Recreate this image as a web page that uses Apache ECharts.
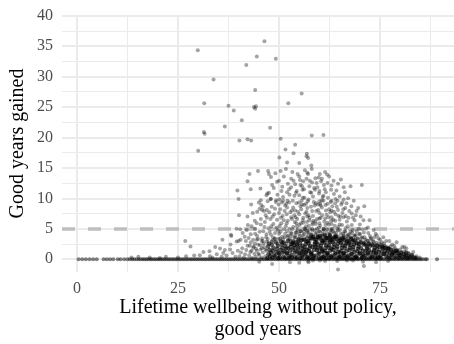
<!DOCTYPE html>
<html>
<head>
<meta charset="utf-8">
<script src="https://cdn.jsdelivr.net/npm/echarts@6/dist/echarts.min.js"></script>
<style>
  html, body { margin: 0; padding: 0; background: #fff; }
  #chart { width: 454px; height: 344px; }
</style>
</head>
<body>
<div id="chart"></div>
<script>
// tick labels
const xTicks = [0, 25, 50, 75];
const yTicks = [0, 5, 10, 15, 20, 25, 30, 35, 40];
const threshold = 5;

// sparse points high up (y > 15)
const highPoints = [
  [46.4,35.8],[29.9,34.3],[44.5,33.3],[49.2,32.9],[41.9,31.9],[33.8,29.5],[44.1,27.8],[55.6,27.2],
  [31.5,25.6],[37.5,25.2],[52.3,25.6],[38.8,24.4],[43.8,25.0],[44.3,25.1],[44.1,24.7],[40.8,22.8],
  [31.4,20.9],[31.6,20.6],[36.6,21.8],[47.8,21.6],[40.2,19.5],[42.2,19.7],[43.1,19.5],[30.0,17.8],
  [50.4,19.8],[58.1,20.3],[61.0,20.4],[51.6,18.0],[54.0,18.8],[53.6,17.4],[56.9,17.3],[56.8,16.9],
  [57.2,16.6],[50.1,16.7],[52.0,15.9],[55.0,15.8],[58.0,15.4]
];

// cloud between 3 and 15
const midPoints = [
  [47.3,14.5],[47.5,14.0],[48.0,13.5],[50.4,14.5],[42.7,14.0],[44.8,14.5],[49.5,12.7],[52.2,12.4],
  [53.0,13.2],[53.6,12.9],[54.0,12.3],[55.2,13.0],[55.3,12.2],[56.4,14.6],[57.0,14.2],[57.2,14.0],
  [60.1,14.0],[61.4,14.3],[61.9,13.9],[59.0,13.3],[59.8,13.4],[60.6,13.2],[63.0,12.1],[67.7,12.0],
  [70.5,12.2],[42.2,12.8],[58.2,12.6],[56.0,12.8],[62.0,12.5],[54.6,14.0],[51.2,13.6],
  [43.0,11.5],[45.4,11.6],[39.7,11.3],[47.1,10.8],[47.5,10.9],[40.0,9.9],[45.5,9.7],[47.9,9.9],
  [46.9,10.5],[49.2,9.4],[50.1,9.8],[51.0,10.2],[51.8,9.1],[52.6,10.6],[53.4,9.6],[54.2,10.9],
  [54.9,9.3],[55.8,11.4],[56.3,10.1],[57.1,9.5],[57.7,11.0],[58.4,10.3],[59.1,9.2],[59.9,10.8],
  [60.6,9.7],[61.3,11.5],[62.1,10.1],[62.8,9.4],[63.6,10.7],[64.2,11.3],[65.0,10.3],[65.6,9.3],
  [66.3,11.0],[67.1,10.0],[68.5,9.6],[48.7,11.7],[50.6,11.2],[53.0,11.8],[55.0,10.5],[57.5,12.0],
  [59.5,11.8],[61.0,10.4],[49.6,10.6],[52.1,9.6],[56.7,9.1],[58.9,11.4],[60.2,9.1],[63.0,9.6],
  [43.1,9.0],[40.1,7.2],[42.2,7.0],[45.2,8.3],[45.8,8.1],[46.3,7.9],[45.6,8.9],[44.0,6.3],
  [47.0,6.8],[48.2,8.6],[48.8,7.4],[49.5,6.5],[50.3,8.2],[50.9,7.1],[51.5,8.8],[52.2,6.3],
  [52.8,7.7],[53.5,8.5],[54.1,6.9],[54.7,7.8],[55.3,8.7],[55.9,6.4],[56.5,7.5],[57.0,8.4],
  [57.6,6.8],[58.2,7.9],[58.8,8.8],[59.4,6.6],[60.0,7.6],[60.6,8.5],[61.2,6.2],[61.8,7.3],
  [62.4,8.2],[63.0,6.9],[63.6,7.8],[64.3,8.6],[65.0,6.5],[65.7,7.6],[66.4,8.4],[67.2,6.8],
  [68.0,7.5],[69.2,7.9],[71.1,8.7],[70.9,6.4],[72.4,6.4],[49.9,9.0],[51.9,7.4],[53.9,6.1],
  [55.7,9.0],[56.9,6.1],[58.5,6.3],[59.7,8.1],[61.5,8.9],[62.9,6.3],[64.7,7.1],[66.8,6.2],
  [47.6,7.7],[46.5,6.1],[43.5,7.6],[53.2,6.6],[57.3,7.2],[60.3,6.8],[63.9,6.3],[66.0,6.9],[68.7,6.4],
  [38.1,4.0],[38.2,3.8],[39.5,5.0],[41.0,4.3],[42.5,3.5],[43.2,5.4],[44.1,4.2],[44.8,3.3],
  [45.5,5.7],[46.1,4.6],[46.8,3.6],[47.4,5.1],[48.0,4.0],[48.6,5.8],[49.1,3.4],[49.7,4.7],
  [50.2,5.5],[50.8,3.7],[51.3,4.9],[51.9,5.9],[52.4,3.2],[52.9,4.4],[53.5,5.3],[54.0,3.9],
  [54.5,4.8],[55.1,5.6],[55.6,3.5],[56.1,4.5],[56.7,5.4],[57.2,3.8],[57.7,4.9],[58.3,5.7],
  [58.8,3.3],[59.3,4.3],[59.9,5.2],[60.4,3.6],[60.9,4.6],[61.5,5.6],[62.0,3.1],[62.5,4.1],
  [63.1,5.0],[63.6,3.7],[64.1,4.4],[64.7,5.3],[65.3,3.4],[65.9,4.2],[66.5,5.1],[67.1,3.6],
  [67.7,4.5],[68.3,3.2],[69.0,4.0],[69.7,5.0],[70.4,3.5],[71.0,4.4],[71.8,3.1],[72.5,3.8],
  [73.9,4.2],[73.2,3.0],[74.6,3.4],[76.5,3.0],[77.3,3.0],[75.5,2.8],[79.1,2.8],[36.0,3.2],
  [40.0,3.0],[50.0,4.2],[53.0,3.0],[56.0,6.0],[58.0,4.1],[61.0,3.3],[63.0,5.8],[66.0,3.9],
  [68.0,5.6],[48.4,3.1],[55.0,4.2],[57.0,4.4],[59.6,3.9],[62.8,3.6],[52.0,4.6],[54.3,5.9],
  [60.0,5.9],[65.0,5.7],[46.0,3.0],[44.5,5.9],[42.0,4.8],[70.0,5.7],[72.0,5.2],
  [81.0,2.0],[81.5,1.8],[83.2,1.2]
];

// more of the same cloud, where it is thickest
const cloudPoints = [
  [48.3,12.2],[49.1,14.1],[50.0,12.9],[50.8,11.9],[51.7,14.8],[52.5,11.5],[53.3,14.3],[54.4,11.2],
  [55.0,13.6],[55.7,12.0],[56.2,11.5],[56.8,13.2],[57.6,12.9],[58.1,14.8],[58.7,11.7],[59.3,12.5],
  [60.0,11.2],[60.4,12.8],[61.1,12.2],[61.6,11.0],[62.4,13.6],[62.9,11.4],[63.5,12.9],[64.6,12.4],
  [65.3,13.1],[66.0,11.8],[53.8,10.4],[55.9,10.1],[58.0,10.9],[60.8,10.2],[64.0,9.9],[52.0,11.0],
  [44.6,7.8],[45.0,9.3],[46.0,8.6],[46.7,7.2],[47.2,9.5],[47.9,6.6],[48.4,7.0],[49.0,8.3],
  [49.3,9.7],[50.0,7.6],[50.5,6.8],[50.7,9.3],[51.2,6.4],[51.4,7.9],[52.0,8.5],[52.5,9.3],
  [53.0,6.9],[53.2,8.0],[53.8,7.2],[54.3,9.2],[54.5,6.6],[55.0,7.4],[55.5,8.2],[55.6,9.6],
  [56.0,6.8],[56.2,8.9],[56.8,7.8],[57.3,9.8],[57.5,6.4],[57.9,8.6],[58.4,7.1],[58.6,9.4],
  [59.0,6.2],[59.2,7.9],[59.6,9.0],[60.0,6.7],[60.3,8.8],[60.7,7.2],[61.0,9.6],[61.4,6.7],
  [61.6,8.0],[62.0,9.1],[62.2,6.9],[62.7,7.7],[63.2,8.7],[63.4,6.5],[63.9,9.2],[64.0,7.4],
  [64.6,8.1],[65.2,7.0],[65.4,9.0],[65.9,8.2],[66.5,7.1],[66.7,9.2],[67.4,7.9],[67.9,8.7],
  [68.3,6.8],[69.0,7.2],[69.6,8.4],[70.2,7.0],[48.0,9.9],[51.0,9.6],[54.0,8.0],[57.0,7.0],
  [60.0,9.5],[63.0,8.0],[66.0,9.8],[45.5,6.6],[47.0,8.1],[58.3,6.0],[62.0,6.0],[64.5,9.6],
  [40.4,4.9],[41.5,3.7],[42.3,5.6],[43.0,4.1],[43.6,3.2],[44.0,5.0],[44.6,3.8],[45.2,4.5],
  [45.8,3.4],[46.4,5.3],[46.9,4.1],[47.2,3.3],[47.7,4.5],[48.1,5.4],[48.5,3.6],[49.0,4.3],
  [49.4,5.2],[49.9,3.3],[50.4,4.5],[50.6,5.9],[51.0,3.2],[51.5,4.2],[51.7,5.4],[52.1,3.7],
  [52.6,5.0],[53.0,3.8],[53.3,4.9],[53.8,3.5],[54.1,4.4],[54.4,5.4],[54.8,3.4],[55.3,4.6],
  [55.4,5.9],[55.9,3.9],[56.3,5.1],[56.5,3.3],[56.9,4.7],[57.4,5.5],[57.5,3.4],[57.9,4.0],
  [58.2,5.0],[58.5,3.7],[58.9,4.8],[59.1,5.8],[59.5,3.5],[59.9,4.6],[60.2,5.5],[60.6,3.9],
  [61.0,5.0],[61.2,4.0],[61.7,3.5],[61.9,4.9],[62.3,5.7],[62.7,4.4],[63.0,3.4],[63.3,4.6],
  [63.8,5.5],[64.0,3.9],[64.4,5.0],[64.9,3.6],[65.1,4.8],[65.6,5.6],[65.8,3.3],[66.2,4.6],
  [66.8,3.8],[67.0,5.4],[67.4,4.1],[67.9,3.5],[68.2,4.8],[68.6,3.8],[69.2,4.6],[69.5,3.4],
  [70.0,4.2],[70.6,4.9],[71.2,3.6],[71.5,5.0],[72.1,4.3],[72.8,3.5],[73.4,4.8],[73.6,3.6],
  [74.2,3.9],[75.0,3.2],[75.8,3.6],[76.0,2.6],[78.0,2.4],[78.5,2.2],[80.0,1.6],[80.5,2.0],
  [82.0,1.0],[44.0,2.6],[42.8,2.2]
];

// soft upper edge of the dense band
const fringePoints = [
  [48.2,2.9],[48.9,3.3],[49.6,2.6],[50.3,3.4],[50.9,2.8],[51.4,3.6],[51.8,2.5],[52.3,3.9],
  [52.7,3.3],[53.1,4.2],[53.6,2.7],[54.0,3.6],[54.3,4.4],[54.7,2.9],[55.1,3.8],[55.4,4.6],
  [55.8,3.2],[56.2,4.1],[56.5,4.9],[56.9,3.6],[57.3,4.4],[57.6,2.9],[58.0,3.9],[58.3,4.7],
  [58.7,3.3],[59.0,4.2],[59.4,5.0],[59.7,3.7],[60.1,4.5],[60.4,3.1],[60.8,4.1],[61.1,4.9],
  [61.5,3.6],[61.8,4.4],[62.2,3.0],[62.5,4.0],[62.9,4.8],[63.2,3.5],[63.6,4.3],[63.9,3.0],
  [64.3,3.9],[64.6,4.7],[65.0,3.4],[65.3,4.2],[65.7,2.9],[66.0,3.7],[66.4,4.5],[66.7,3.3],
  [67.1,4.0],[67.4,2.8],[67.8,3.6],[68.1,4.3],[68.5,3.1],[68.8,3.8],[69.2,2.6],[69.5,3.4],
  [69.9,4.1],[70.2,3.0],[70.6,3.6],[70.9,2.7],[71.3,3.2],[71.6,2.3],[72.0,3.0],[72.3,2.7],
  [72.7,3.3],[73.0,2.5],[73.4,2.9],[73.7,2.4],[74.1,2.7],[74.5,2.2],[74.8,2.6],[75.3,2.4],
  [75.7,2.0],[76.1,2.2],[76.6,2.0],[77.0,1.9],[77.6,2.1],[78.2,1.6],[78.7,1.8],[79.3,1.5],
  [80.2,1.2],[81.0,1.3],[82.2,0.9],[83.0,0.7],[84.0,0.5],[84.8,0.3],
  [43.2,1.4],[43.8,2.1],[44.3,1.7],[44.9,0.9],[45.3,2.3],[45.8,1.8],[46.2,2.6],[46.7,1.6],[47.0,2.9]
];

// scattered points just above zero on the left side
const lowPoints = [
  [13.5,0.3],[15.2,0.4],[18.0,0.3],[20.5,0.2],[22.0,0.4],[25.0,0.3],[27.0,0.5],[29.0,0.6],
  [26.8,3.0],[28.1,2.1],[30.4,0.65],[31.3,1.2],[32.8,1.3],[32.9,0.5],[34.2,2.0],[34.6,0.8],
  [35.4,1.75],[36.6,1.5],[37.0,0.6],[37.9,1.6],[38.5,1.0],[39.2,0.4],[39.8,1.4],[33.5,0.3],
  [35.8,0.4],[36.2,1.0],[38.0,2.4],[39.5,2.9],[40.5,3.2],[41.8,3.0],[43.0,2.8],[44.5,3.2],[45.7,3.0],
  [40.2,0.5],[40.6,1.1],[40.9,1.8],[41.3,0.3],[41.6,0.8],[41.9,1.5],[42.2,2.2],[42.6,0.6],
  [42.9,1.2],[43.3,0.2],[43.6,1.9],[43.9,0.9],[44.2,0.4],[44.5,1.4],[44.8,2.4],[45.1,0.7],
  [45.4,1.6],[45.7,0.3],[46.0,1.1],[46.3,2.0],[46.6,0.5],[46.9,1.4]
];

// dense band close to zero
const corePoints = [
  [47.1,0.2],[47.4,0.8],[47.7,1.5],[47.3,2.1],[47.8,0.5],[47.5,2.6],
  [48.0,1.1],[48.3,0.3],[48.6,1.9],[48.2,2.4],[48.8,0.7],[48.5,1.4],
  [49.1,0.5],[49.4,1.2],[49.7,2.2],[49.2,2.8],[49.8,0.2],[49.5,1.7],[49.9,1.0],
  [50.1,0.8],[50.4,1.5],[50.7,2.4],[50.2,0.3],[50.9,1.1],[50.5,2.9],[50.8,1.9],
  [51.1,0.4],[51.3,1.3],[51.6,2.1],[51.9,0.9],[51.2,2.7],[51.7,1.7],[51.5,0.2],
  [52.0,1.0],[52.3,1.8],[52.6,0.5],[52.9,2.5],[52.2,3.0],[52.7,1.3],[52.4,0.2],[52.8,2.0],
  [53.1,0.7],[53.4,1.6],[53.7,2.3],[53.2,0.3],[53.9,1.1],[53.5,2.9],[53.8,1.9],[53.3,2.6],
  [54.0,0.4],[54.3,1.3],[54.6,2.1],[54.9,0.8],[54.2,2.8],[54.7,1.6],[54.4,0.2],[54.8,3.2],[54.5,2.4],
  [55.1,1.0],[55.4,1.9],[55.7,0.5],[55.2,2.6],[55.9,1.4],[55.5,3.1],[55.3,0.2],[55.8,2.2],[55.6,1.2],
  [56.0,0.7],[56.3,1.6],[56.6,2.5],[56.9,0.3],[56.2,3.2],[56.7,1.1],[56.4,2.0],[56.8,2.9],[56.5,0.9],
  [57.1,0.4],[57.4,1.3],[57.7,2.2],[57.2,3.0],[57.9,0.8],[57.5,1.8],[57.3,2.6],[57.8,3.5],[57.6,0.2],[57.0,1.5],
  [58.0,1.1],[58.3,2.0],[58.6,0.5],[58.9,2.8],[58.2,3.4],[58.7,1.5],[58.4,0.2],[58.8,2.4],[58.5,3.7],[58.1,0.8],
  [59.1,0.6],[59.4,1.5],[59.7,2.4],[59.2,3.2],[59.9,0.3],[59.5,1.9],[59.3,2.8],[59.8,1.1],[59.6,3.6],[59.0,2.1],
  [60.0,0.9],[60.3,1.8],[60.6,2.7],[60.9,0.4],[60.2,3.4],[60.7,1.3],[60.4,2.2],[60.8,3.0],[60.5,0.2],[60.1,3.8],[60.6,1.6],
  [61.1,0.5],[61.4,1.4],[61.7,2.3],[61.2,3.1],[61.9,0.9],[61.5,1.9],[61.3,2.7],[61.8,3.5],[61.6,0.2],[61.0,1.2],[61.4,3.9],
  [62.0,1.0],[62.3,1.9],[62.6,2.8],[62.9,0.4],[62.2,3.5],[62.7,1.4],[62.4,2.3],[62.8,3.1],[62.5,0.2],[62.1,0.7],[62.6,3.8],
  [63.1,0.6],[63.4,1.5],[63.7,2.4],[63.2,3.2],[63.9,1.0],[63.5,2.0],[63.3,2.8],[63.8,3.6],[63.6,0.3],[63.0,1.7],
  [64.0,0.8],[64.3,1.7],[64.6,2.6],[64.9,0.4],[64.2,3.3],[64.7,1.2],[64.4,2.1],[64.8,3.0],[64.5,0.2],[64.1,3.7],
  [65.1,0.5],[65.4,1.4],[65.7,2.3],[65.2,3.1],[65.9,0.9],[65.5,1.9],[65.3,2.7],[65.8,3.5],[65.6,0.2],[65.0,1.1],
  [66.0,1.0],[66.3,1.8],[66.6,2.6],[66.9,0.4],[66.2,3.2],[66.7,1.3],[66.4,2.2],[66.8,2.9],[66.5,0.2],[66.1,0.7],
  [67.1,0.6],[67.4,1.5],[67.7,2.3],[67.2,3.0],[67.9,0.9],[67.5,1.9],[67.3,2.6],[67.8,3.3],[67.6,0.2],
  [68.0,0.8],[68.3,1.6],[68.6,2.4],[68.9,0.4],[68.2,2.9],[68.7,1.2],[68.4,2.0],[68.8,3.1],[68.5,0.2],
  [69.1,0.5],[69.4,1.3],[69.7,2.1],[69.2,2.7],[69.9,0.9],[69.5,1.7],[69.3,0.2],[69.8,2.5],
  [70.0,1.0],[70.3,1.8],[70.6,0.4],[70.9,2.4],[70.2,2.8],[70.7,1.4],[70.4,0.2],[70.8,0.8],
  [71.1,0.6],[71.4,1.4],[71.7,2.1],[71.2,2.6],[71.9,1.0],[71.5,0.2],[71.8,1.7],
  [72.0,0.8],[72.3,1.5],[72.6,2.2],[72.9,0.4],[72.2,2.5],[72.7,1.1],[72.5,0.2],
  [73.1,0.5],[73.4,1.2],[73.7,1.9],[73.2,2.3],[73.9,0.8],[73.5,1.5],[73.8,0.2],
  [74.0,1.0],[74.3,1.6],[74.6,0.4],[74.9,2.0],[74.2,2.2],[74.7,1.2],[74.4,0.2],
  [75.1,0.6],[75.4,1.3],[75.7,1.8],[75.2,0.2],[75.9,0.9],[75.5,2.1],
  [76.0,0.8],[76.3,1.4],[76.6,0.4],[76.9,1.7],[76.2,1.9],[76.7,1.1],
  [77.1,0.5],[77.4,1.1],[77.7,1.5],[77.2,1.7],[77.9,0.8],[77.5,0.2],
  [78.0,0.7],[78.3,1.2],[78.6,0.3],[78.9,1.4],[78.5,1.0],
  [79.1,0.5],[79.4,1.0],[79.7,0.2],[79.2,1.3],[79.8,0.7],
  [80.0,0.6],[80.3,1.0],[80.6,0.3],[80.9,0.8],
  [81.1,0.4],[81.4,0.7],[81.7,0.2],[81.5,1.1],
  [82.0,0.5],[82.4,0.3],[82.8,0.6],[83.3,0.3],[83.8,0.2]
];

// a few points below zero
const belowPoints = [
  [45.1,-0.4],[48.3,-0.8],[52.7,-0.5],[57.3,-0.5],[57.2,-0.3],[58.4,-0.2],[60.1,-0.2],[61.4,-0.3],
  [64.4,-0.3],[66.8,-0.2],[68.3,-0.2],[70.8,-0.4],[71.0,-1.1],[64.6,-1.7],[55.0,-0.6],[74.0,-0.5],[77.0,-0.3]
];

// points sitting on zero
const baselineX = [
  0.4,1.3,2.2,3.1,4.0,4.9,6.6,7.4,8.2,9.0,10.1,10.8,11.7,12.5,13.1,13.7,14.2,14.8,15.3,15.8,
  16.3,16.7,17.2,17.6,18.1,18.5,19.0,19.4,19.9,20.3,20.8,21.2,21.7,22.1,22.6,23.0,23.5,23.9,24.4,24.8,
  25.3,25.7,26.2,26.6,27.1,27.5,28.0,28.4,28.9,29.3,29.8,30.2,30.7,31.1,31.6,32.0,32.5,32.9,33.4,33.8,
  34.3,34.7,35.2,35.6,36.1,36.5,37.0,37.4,37.9,38.3,38.8,39.2,39.7,40.1,40.6,41.0,41.5,41.9,42.4,42.8,
  43.3,43.7,44.2,44.6,45.1,45.5,46.0,46.4,46.9,47.3,47.8,48.2,48.7,49.1,49.6,50.0,50.5,50.9,51.4,51.8,
  52.3,52.7,53.2,53.6,54.1,54.5,55.0,55.4,55.9,56.3,56.8,57.2,57.7,58.1,58.6,59.0,59.5,59.9,60.4,60.8,
  61.3,61.7,62.2,62.6,63.1,63.5,64.0,64.4,64.9,65.3,65.8,66.2,66.7,67.1,67.6,68.0,68.5,68.9,69.4,69.8,
  70.3,70.7,71.2,71.6,72.1,72.5,73.0,73.4,73.9,74.3,74.8,75.2,75.7,76.1,76.6,77.0,77.5,77.9,78.4,78.8,
  79.3,79.7,80.2,80.6,81.1,81.5,82.0,82.4,82.9,83.3,83.8,84.2,84.7,85.1,85.6,86.2,86.6,89.1
];

const serif = '"Liberation Serif", "Times New Roman", serif';
const gridColor = '#ebebeb';

// gridlines: major at ticks, minor halfway between
const minorX = xTicks.map(v => v + 12.5);
const minorY = yTicks.slice(1).map(v => v - 2.5);
const gridLines = []
  .concat(minorX.map(v => ({ xAxis: v, lineStyle: { color: gridColor, width: 1, type: 'solid' } })))
  .concat(minorY.map(v => ({ yAxis: v, lineStyle: { color: gridColor, width: 1, type: 'solid' } })))
  .concat(xTicks.map(v => ({ xAxis: v, lineStyle: { color: gridColor, width: 2, type: 'solid' } })))
  .concat(yTicks.map(v => ({ yAxis: v, lineStyle: { color: gridColor, width: 2, type: 'solid' } })));

function dots(name, data, alpha, size) {
  return {
    name: name,
    type: 'scatter',
    data: data,
    symbolSize: size,
    z: 10,
    silent: true,
    itemStyle: { color: 'rgba(0,0,0,' + alpha + ')' }
  };
}

let myChart = echarts.init(document.getElementById('chart'), null, { renderer: 'canvas' });
var option = {
  animation: false,
  backgroundColor: '#fff',
  grid: { left: 62, right: 0, top: 15, bottom: 72, containLabel: false, outerBoundsMode: 'none' },
  xAxis: {
    type: 'value',
    min: -3.7,
    max: 93.3,
    axisLine: { show: false },
    axisTick: { show: false },
    splitLine: { show: false },
    axisLabel: {
      customValues: xTicks,
      color: '#4d4d4d',
      fontFamily: serif,
      fontSize: 16,
      margin: 9
    },
    name: 'Lifetime wellbeing without policy,\ngood years',
    nameLocation: 'middle',
    nameMoveOverlap: false,
    nameGap: 25,
    nameTextStyle: { fontFamily: serif, fontSize: 20, color: '#000', lineHeight: 22 }
  },
  yAxis: {
    type: 'value',
    min: -2.1,
    max: 40.1,
    axisLine: { show: false },
    axisTick: { show: false },
    splitLine: { show: false },
    axisLabel: {
      customValues: yTicks,
      color: '#4d4d4d',
      fontFamily: serif,
      fontSize: 16,
      margin: 9
    },
    name: 'Good years gained',
    nameLocation: 'middle',
    nameMoveOverlap: false,
    nameRotate: 90,
    nameGap: 34,
    nameTextStyle: { fontFamily: serif, fontSize: 20, color: '#000' }
  },
  series: [
    {
      name: 'grid',
      type: 'line',
      data: [],
      z: 1,
      silent: true,
      markLine: {
        z: 1,
        silent: true,
        symbol: 'none',
        label: { show: false },
        animation: false,
        data: gridLines
      }
    },
    {
      name: 'threshold',
      type: 'line',
      data: [],
      z: 2,
      silent: true,
      markLine: {
        z: 2,
        silent: true,
        symbol: 'none',
        label: { show: false },
        animation: false,
        lineStyle: { color: '#bebebe', width: 3.5, type: [13, 13] },
        data: [{ yAxis: threshold }]
      }
    },
    dots('high', highPoints, 0.45, 4),
    dots('mid', midPoints, 0.45, 4),
    dots('cloud', cloudPoints, 0.45, 4),
    dots('fringe', fringePoints, 0.5, 4),
    dots('low', lowPoints, 0.45, 4),
    dots('below', belowPoints, 0.45, 4),
    dots('baseline', baselineX.map(x => [x, 0]), 0.6, 4),
    dots('core', corePoints, 0.8, 4.5)
  ]
};
myChart.setOption(option);
</script>
</body>
</html>
